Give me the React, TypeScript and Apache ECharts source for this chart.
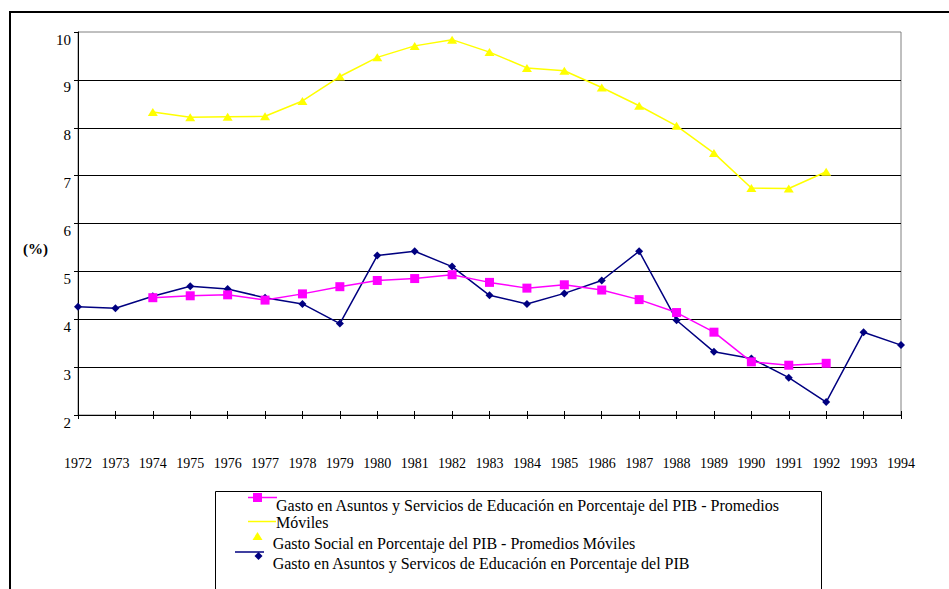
import React, { useEffect, useRef } from "react";
import * as echarts from "echarts";

const years = ["1972","1973","1974","1975","1976","1977","1978","1979","1980","1981","1982","1983","1984","1985","1986","1987","1988","1989","1990","1991","1992","1993","1994"];

const educMovAvg = [null,null,4.45,4.49,4.51,4.40,4.53,4.68,4.81,4.85,4.93,4.77,4.65,4.72,4.61,4.41,4.14,3.73,3.11,3.04,3.08,null,null];
const socialMovAvg = [null,null,8.33,8.22,8.23,8.24,8.56,9.07,9.47,9.71,9.84,9.58,9.25,9.19,8.84,8.46,8.04,7.47,6.74,6.73,7.08,null,null];
const educPIB = [4.26,4.23,4.48,4.69,4.63,4.45,4.32,3.91,5.33,5.42,5.10,4.50,4.32,4.54,4.81,5.42,3.98,3.32,3.18,2.78,2.27,3.73,3.46];

const legendNames = [
  "Gasto en Asuntos y Servicios de Educación en Porcentaje del PIB - Promedios",
  "Móviles",
  "Gasto Social en Porcentaje del PIB - Promedios Móviles",
  "Gasto en Asuntos y Servicos de Educación en Porcentaje del PIB",
];

const SERIF = "Liberation Serif, serif";
const MAGENTA = "#FF00FF";
const YELLOW = "#FFFF00";
const NAVY = "#000080";

export default function App() {
  const ref = useRef<HTMLDivElement>(null);
  useEffect(() => {
    if (!ref.current) return;
    const chart = echarts.init(ref.current, null, { renderer: "svg" });
    const legendText = (text: string, x: number, y: number) => ({
      type: "text",
      x,
      y,
      style: { text, fontFamily: SERIF, fontSize: 16, fill: "#000", verticalAlign: "middle" },
    });
    chart.setOption({
      animation: false,
      backgroundColor: "#ffffff",
      textStyle: { fontFamily: SERIF },
      grid: {
        left: 78,
        right: 48,
        top: 32,
        bottom: 174,
        show: true,
        borderColor: "#808080",
        borderWidth: 1,
        backgroundColor: "transparent",
      },
      xAxis: [
        {
          type: "category",
          data: years,
          boundaryGap: false,
          position: "bottom",
          axisLine: { show: true, onZero: false, lineStyle: { color: "#000", width: 1 } },
          axisTick: { show: true, inside: false, length: 4, lineStyle: { color: "#000" } },
          axisLabel: { color: "#000", fontFamily: SERIF, fontSize: 14, margin: 41, interval: 0 },
          splitLine: { show: false },
        },
        {
          type: "category",
          data: years,
          boundaryGap: false,
          position: "bottom",
          axisLine: { show: false, onZero: false },
          axisTick: { show: true, inside: true, length: 4, lineStyle: { color: "#000" } },
          axisLabel: { show: false },
          splitLine: { show: false },
        },
      ],
      yAxis: {
        type: "value",
        min: 2,
        max: 10,
        interval: 1,
        axisLine: { show: true, lineStyle: { color: "#000", width: 1 } },
        axisTick: { show: true, inside: false, length: 4, lineStyle: { color: "#000" } },
        axisLabel: {
          color: "#000",
          fontFamily: SERIF,
          fontSize: 15,
          margin: 7,
          verticalAlign: "top",
        },
        splitLine: { show: true, showMinLine: false, showMaxLine: false, lineStyle: { color: "#000", width: 1 } },
      },
      series: [
        {
          name: legendNames[3],
          type: "line",
          data: educPIB,
          symbol: "diamond",
          symbolSize: 8,
          lineStyle: { color: NAVY, width: 1.5 },
          itemStyle: { color: NAVY },
          z: 2,
        },
        {
          name: legendNames[2],
          type: "line",
          data: socialMovAvg,
          symbol: "triangle",
          symbolSize: [10, 8],
          lineStyle: { color: YELLOW, width: 1.5 },
          itemStyle: { color: YELLOW },
          z: 3,
        },
        {
          name: legendNames[0] + " " + legendNames[1],
          type: "line",
          data: educMovAvg,
          symbol: "rect",
          symbolSize: 9,
          lineStyle: { color: MAGENTA, width: 1.5 },
          itemStyle: { color: MAGENTA },
          z: 4,
        },
      ],
      graphic: [
        { type: "line", shape: { x1: 10, y1: 12, x2: 949, y2: 12 }, style: { stroke: "#000", lineWidth: 2 } },
        { type: "line", shape: { x1: 10, y1: 11, x2: 10, y2: 589 }, style: { stroke: "#000", lineWidth: 2 } },
        {
          type: "text",
          x: 23,
          y: 249,
          style: { text: "(%)", fontFamily: SERIF, fontSize: 15, fontWeight: "bold", fill: "#000", verticalAlign: "middle" },
        },
        { type: "rect", shape: { x: 215.5, y: 491.5, width: 606, height: 120 }, style: { fill: "none", stroke: "#000", lineWidth: 1 } },
        { type: "line", shape: { x1: 248, y1: 497.5, x2: 277, y2: 497.5 }, style: { stroke: MAGENTA, lineWidth: 1.5 } },
        { type: "rect", shape: { x: 253, y: 493, width: 9, height: 9 }, style: { fill: MAGENTA } },
        { type: "line", shape: { x1: 248, y1: 521.5, x2: 276, y2: 521.5 }, style: { stroke: YELLOW, lineWidth: 1.5 } },
        legendText(legendNames[0], 276, 505),
        legendText(legendNames[1], 276, 522.5),
        { type: "polygon", shape: { points: [[257.5, 532], [262.5, 540], [252.5, 540]] }, style: { fill: YELLOW } },
        legendText(legendNames[2], 272.7, 543.5),
        { type: "line", shape: { x1: 235, y1: 552, x2: 264, y2: 552 }, style: { stroke: NAVY, lineWidth: 1.5 } },
        { type: "polygon", shape: { points: [[258.5, 552], [262.5, 556], [258.5, 560], [254.5, 556]] }, style: { fill: NAVY } },
        legendText(legendNames[3], 272.7, 563),
      ],
    });
    return () => chart.dispose();
  }, []);
  return (
    <div
      ref={ref}
      style={{ position: "absolute", left: 0, top: 0, width: 949, height: 589, background: "#fff" }}
    />
  );
}
